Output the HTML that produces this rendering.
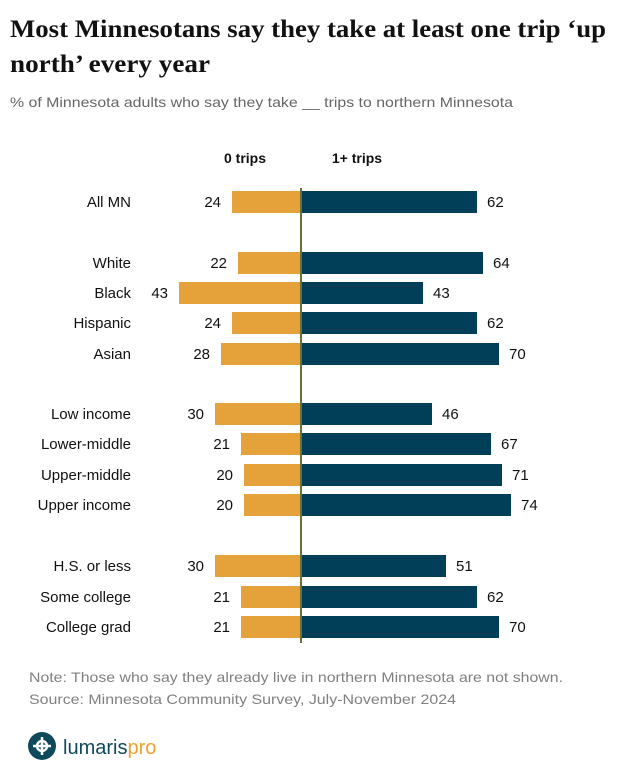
<!DOCTYPE html>
<html><head><meta charset="utf-8"><style>
body{margin:0;background:#fff;width:622px;height:774px;overflow:hidden}
svg{display:block}
</style></head><body>
<svg width="622" height="774" xmlns="http://www.w3.org/2000/svg" font-family="Liberation Sans, sans-serif">
<text x="10" y="37" font-family="Liberation Serif, serif" font-weight="bold" font-size="25" fill="#111" textLength="596" lengthAdjust="spacingAndGlyphs">Most Minnesotans say they take at least one trip ‘up</text>
<text x="10" y="72" font-family="Liberation Serif, serif" font-weight="bold" font-size="25" fill="#111" textLength="200" lengthAdjust="spacingAndGlyphs">north’ every year</text>
<text x="10" y="107" font-size="14" fill="#666" textLength="503" lengthAdjust="spacingAndGlyphs">% of Minnesota adults who say they take __ trips to northern Minnesota</text>
<text x="245" y="163" font-size="14" font-weight="bold" text-anchor="middle" fill="#111">0 trips</text>
<text x="357" y="163" font-size="14" font-weight="bold" text-anchor="middle" fill="#111">1+ trips</text>
<g font-size="15" fill="#111">
<g><rect x="232" y="191" width="69" height="22" fill="#E5A23A"/><rect x="301" y="191" width="176" height="22" fill="#003F57"/><text x="131" y="207" text-anchor="end">All MN</text><text x="221" y="207" text-anchor="end">24</text><text x="487" y="207">62</text></g>
<g><rect x="238" y="252" width="63" height="22" fill="#E5A23A"/><rect x="301" y="252" width="182" height="22" fill="#003F57"/><text x="131" y="268" text-anchor="end">White</text><text x="227" y="268" text-anchor="end">22</text><text x="493" y="268">64</text></g>
<g><rect x="179" y="282" width="122" height="22" fill="#E5A23A"/><rect x="301" y="282" width="122" height="22" fill="#003F57"/><text x="131" y="298" text-anchor="end">Black</text><text x="168" y="298" text-anchor="end">43</text><text x="433" y="298">43</text></g>
<g><rect x="232" y="312" width="69" height="22" fill="#E5A23A"/><rect x="301" y="312" width="176" height="22" fill="#003F57"/><text x="131" y="328" text-anchor="end">Hispanic</text><text x="221" y="328" text-anchor="end">24</text><text x="487" y="328">62</text></g>
<g><rect x="221" y="343" width="80" height="22" fill="#E5A23A"/><rect x="301" y="343" width="198" height="22" fill="#003F57"/><text x="131" y="359" text-anchor="end">Asian</text><text x="210" y="359" text-anchor="end">28</text><text x="509" y="359">70</text></g>
<g><rect x="215" y="403" width="86" height="22" fill="#E5A23A"/><rect x="301" y="403" width="131" height="22" fill="#003F57"/><text x="131" y="419" text-anchor="end">Low income</text><text x="204" y="419" text-anchor="end">30</text><text x="442" y="419">46</text></g>
<g><rect x="241" y="433" width="60" height="22" fill="#E5A23A"/><rect x="301" y="433" width="190" height="22" fill="#003F57"/><text x="131" y="449" text-anchor="end">Lower-middle</text><text x="230" y="449" text-anchor="end">21</text><text x="501" y="449">67</text></g>
<g><rect x="244" y="464" width="57" height="22" fill="#E5A23A"/><rect x="301" y="464" width="201" height="22" fill="#003F57"/><text x="131" y="480" text-anchor="end">Upper-middle</text><text x="233" y="480" text-anchor="end">20</text><text x="512" y="480">71</text></g>
<g><rect x="244" y="494" width="57" height="22" fill="#E5A23A"/><rect x="301" y="494" width="210" height="22" fill="#003F57"/><text x="131" y="510" text-anchor="end">Upper income</text><text x="233" y="510" text-anchor="end">20</text><text x="521" y="510">74</text></g>
<g><rect x="215" y="555" width="86" height="22" fill="#E5A23A"/><rect x="301" y="555" width="145" height="22" fill="#003F57"/><text x="131" y="571" text-anchor="end">H.S. or less</text><text x="204" y="571" text-anchor="end">30</text><text x="456" y="571">51</text></g>
<g><rect x="241" y="586" width="60" height="22" fill="#E5A23A"/><rect x="301" y="586" width="176" height="22" fill="#003F57"/><text x="131" y="602" text-anchor="end">Some college</text><text x="230" y="602" text-anchor="end">21</text><text x="487" y="602">62</text></g>
<g><rect x="241" y="616" width="60" height="22" fill="#E5A23A"/><rect x="301" y="616" width="198" height="22" fill="#003F57"/><text x="131" y="632" text-anchor="end">College grad</text><text x="230" y="632" text-anchor="end">21</text><text x="509" y="632">70</text></g>
</g>
<rect x="300" y="188" width="2" height="455" fill="#6B7033"/>
<text x="29" y="682" font-size="14" fill="#808080" textLength="534" lengthAdjust="spacingAndGlyphs">Note: Those who say they already live in northern Minnesota are not shown.</text>
<text x="29" y="704" font-size="14" fill="#808080" textLength="427" lengthAdjust="spacingAndGlyphs">Source: Minnesota Community Survey, July-November 2024</text>
<circle cx="42" cy="746" r="14" fill="#0E4A5C"/>
<g stroke="#fff" stroke-width="2.5" fill="none"><path d="M42 737v18M33 746h18"/><circle cx="42" cy="746" r="5"/></g>
<text x="63" y="754" font-size="20" fill="#0E4A5C">lumaris<tspan fill="#F0A030">pro</tspan></text>
</svg>
</body></html>
